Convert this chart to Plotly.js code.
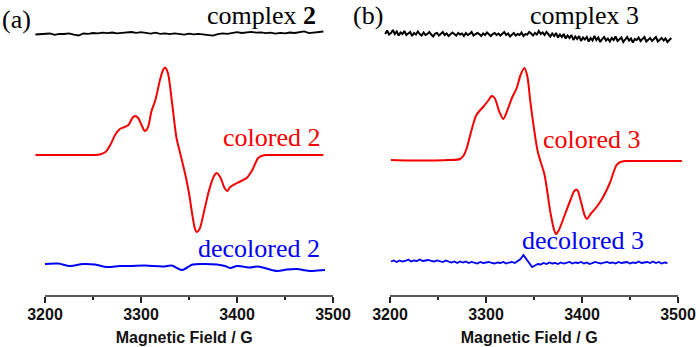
<!DOCTYPE html>
<html>
<head>
<meta charset="utf-8">
<script src="https://cdn.plot.ly/plotly-3.0.1.min.js"></script>
<style>html,body{margin:0;padding:0;background:#fff;}#chart{width:700px;height:347px;}</style>
</head>
<body>
<div id="chart"></div>
<script>
// ---------- Data (intensity in arbitrary units, stacked offsets included) ----------
// Panel (a): complex 2
const fieldA_black_start = 3190, fieldA_black_step = 5;
const complex2 = [261.5,262,261.8,262.5,261.2,262.2,262,262.7,261.4,260.5,262.5,262.2,263,262.6,263.3,262.8,263.5,262.7,263.2,263.6,264,263.2,263.8,263.1,262.4,263.4,262.2,262.7,261.8,262.6,262,261.4,262.3,261.7,262.1,261.5,261,260.4,261.8,262.6,262.1,263.2,263.8,263,263.6,264.2,263.4,263.7,262.8,263.3,262.4,263.2,262.6,263.5,263,263.6,264.6,262.8,263.3,263.9,264.5];

const colored2_field = [3190,3210,3230,3250,3257,3263,3268,3273,3278,3283,3287,3291,3294,3297,3301,3304,3307,3311,3315,3320,3323,3325,3328,3332,3337,3341,3346,3350,3353,3356,3358,3361,3366,3371,3376,3379,3383,3387,3390,3393,3400,3410,3416,3422,3427,3431,3450,3470,3490];
const colored2 = [141,141,141,141,141.5,144,151,161,167,169,171,178,180,178,170,165,168,185,196,217,226,228.5,223,196,158,142,122,103,84,68,64,67,86,106,120,123,118,108,105,109,113,118,126,138,140.5,141,141,141,141];

const decolored2_field = [3200,3213.5,3226,3239.6,3252,3264.6,3278,3288.5,3304,3323,3332,3342.7,3349,3354,3366.7,3379,3387.5,3392.7,3400,3406,3413.5,3421,3429,3441.7,3452,3462.5,3468.7,3476,3484,3491.7];
const decolored2 = [32,32.5,30,32,31.5,29,30,30,30.5,29.5,30.5,26,29,31.5,32,31.5,30,28,30,29.5,28.5,29.5,28,25,26.5,27,26,25,25.5,26];

// Panel (b): complex 3
const fieldB_black_start = 3195, fieldB_black_step = 2;
const complex3 = [
  262,265.5,261.5,263,266,262,264.5,260.5,263.5,262,265,261,262.5,264,260,263,261.5,264.5,262,260.5,
  263.5,261,262,264,261.5,259.5,262.5,263,260.5,262,264,261,262.5,260,261.5,263.5,262,260.5,263,261.5,
  262.5,260,263,261,262,264,260.5,261.5,263,262,260,262.5,261,263.5,261.5,260,262,263,261,262.5,
  260.5,262,264,261,262.5,259.5,261.5,263,260.5,262,261,263.5,260,262,261.5,264,262.5,260.5,263,261.5,
  265,262,263.5,261,264,262,259.5,262.5,260,263,258.5,261.5,259,262,257.5,260.5,258,261,256,259.5,
  257,260,255,258.5,256.5,259,254.5,258,255.5,260,256,258.5,254,257,259,255.5,257.5,254.5,258,256,
  259.5,255,257,258.5,254,256.5,259,255.5,257.5,253.5,257,256,258.5,255,257.5,259,254.5,256.5,258,255,
  257,259,254.5,256,258,255.5,257.5,254,256.5,258];

const colored3_field = [3201,3220,3240,3260,3273,3277,3280,3285,3290,3297,3302,3306,3309,3314,3318,3322,3327,3332,3336,3340,3343,3346,3348,3354,3361,3367,3371,3373,3376,3382,3388,3392,3395,3399,3403,3405,3409,3416,3422,3429,3436,3440,3445,3460,3480,3504];
const colored3 = [136,135.5,135.5,136,137,141,148,166,181,189,195,200,198,184,177,185,198,208,221,228,220,196,181,144,121,84,66,62,66,81,96,105,106,94,80,77,82,90,99,113,131,134,135,135,135,135];

const fieldB_blue_start = 3201, fieldB_blue_step = 3;
const decolored3 = [34.5,35.5,34,35.5,34.5,35,36.5,34.5,35.5,35,36.5,35,35.5,36,35,34.5,35.5,
  35,34,35.5,34.5,33.5,34.5,33,34.5,33.5,34.5,33,34,33.5,32.5,34,33,33.5,
  34,33,32.5,33.5,33,34,32.5,33.5,34,33,35,
  37,41,37,33,29,30.5,
  32,31.5,33,32,33.5,32.5,33,32,33.5,32.5,33,34,32.5,33.5,33,34,32.5,33.5,32,33,34,33,32.5,33.5,34,33,33.5,32.5,34,33,33.5,34,32.5,33.5,33,34.5,33,33.5,34,33,34.5,33,34,32.5,33.5,33];

const tickVals = [3200,3300,3400,3500];
const minorTickVals = [3250,3350,3450];
const tickText = ['3200','3300','3400','3500'];
const xTitle = 'Magnetic Field / G';

// ---------- Build ----------
function fieldFrom(start, step, arr){ return arr.map((_, i) => start + step * i); }

const RED = 'rgb(245,0,0)', BLUE = 'rgb(0,0,245)', BLACK = '#000';

const traces = [
  {x: fieldFrom(fieldA_black_start, fieldA_black_step, complex2), y: complex2, xaxis:'x', yaxis:'y', mode:'lines', line:{color:BLACK, width:1.8}},
  {x: colored2_field, y: colored2, xaxis:'x', yaxis:'y', mode:'lines', line:{color:RED, width:2, shape:'spline', smoothing:0.8}},
  {x: decolored2_field, y: decolored2, xaxis:'x3', yaxis:'y', mode:'lines', line:{color:BLUE, width:2, shape:'spline', smoothing:1}},
  {x: fieldFrom(fieldB_black_start, fieldB_black_step, complex3), y: complex3, xaxis:'x2', yaxis:'y', mode:'lines', line:{color:BLACK, width:2}},
  {x: colored3_field, y: colored3, xaxis:'x2', yaxis:'y', mode:'lines', line:{color:RED, width:2, shape:'spline', smoothing:0.8}},
  {x: fieldFrom(fieldB_blue_start, fieldB_blue_step, decolored3), y: decolored3, xaxis:'x4', yaxis:'y', mode:'lines', line:{color:BLUE, width:1.8}}
];

const sansBold = {family:'Arial, Liberation Sans, sans-serif', size:16, color:'#111', weight:'bold'};
const RANGE = [3180,3510];
function labelAxis(domain){
  return {
    domain: domain, range:RANGE, anchor:'y',
    showgrid:false, zeroline:false, showline:false,
    tickmode:'array', tickvals: tickVals, ticktext: tickText,
    ticks:'', tickfont: sansBold, ticklabelstandoff:7,
    title:{text: xTitle, font:sansBold, standoff:9},
    fixedrange:true
  };
}
function tickAxis(over){
  return {
    overlaying: over, anchor:'y', range:RANGE,
    showgrid:false, zeroline:false, showline:false, showticklabels:false,
    tickmode:'array', tickvals: tickVals,
    ticks:'outside', ticklen:6, tickwidth:1.5, tickcolor:'#222',
    minor:{tickmode:'array', tickvals: minorTickVals, ticks:'outside', ticklen:3, tickwidth:1.5, tickcolor:'#222'},
    fixedrange:true
  };
}

const serif = 'Liberation Serif, Times New Roman, serif';
function ann(text, px, yPaper, color){
  return {text:text, xref:'paper', yref:'paper', x:px/700, y:yPaper, xanchor:'left', yanchor:'middle', showarrow:false,
          font:{family:serif, size:26, color:color}};
}

const layout = {
  width:700, height:347,
  margin:{l:0, r:0, t:0, b:51},
  paper_bgcolor:'#fff', plot_bgcolor:'#fff',
  showlegend:false,
  xaxis: labelAxis([0.03686, 0.48943]),
  xaxis2: labelAxis([0.52971, 0.98229]),
  xaxis3: tickAxis('x'),
  xaxis4: tickAxis('x2'),
  yaxis: {range:[0,296], visible:false, fixedrange:true},
  shapes: [
    {type:'line', xref:'x', yref:'paper', x0:3200, x1:3500, y0:0, y1:0, line:{color:'#222', width:1.5}},
    {type:'line', xref:'x2', yref:'paper', x0:3200, x1:3500, y0:0, y1:0, line:{color:'#222', width:1.5}}
  ],
  annotations: [
    ann('(a)', 0, 0.9358, BLACK),
    ann('(b)', 351, 0.949, BLACK),
    ann('complex <b>2</b>', 205, 0.949, BLACK),
    ann('complex 3', 528, 0.949, BLACK),
    ann('colored 2', 221, 0.537, RED),
    ann('colored 3', 541, 0.530, RED),
    ann('decolored 2', 196, 0.162, BLUE),
    ann('decolored 3', 520, 0.189, BLUE)
  ]
};

Plotly.newPlot('chart', traces, layout, {displayModeBar:false, staticPlot:true});
</script>
</body>
</html>
